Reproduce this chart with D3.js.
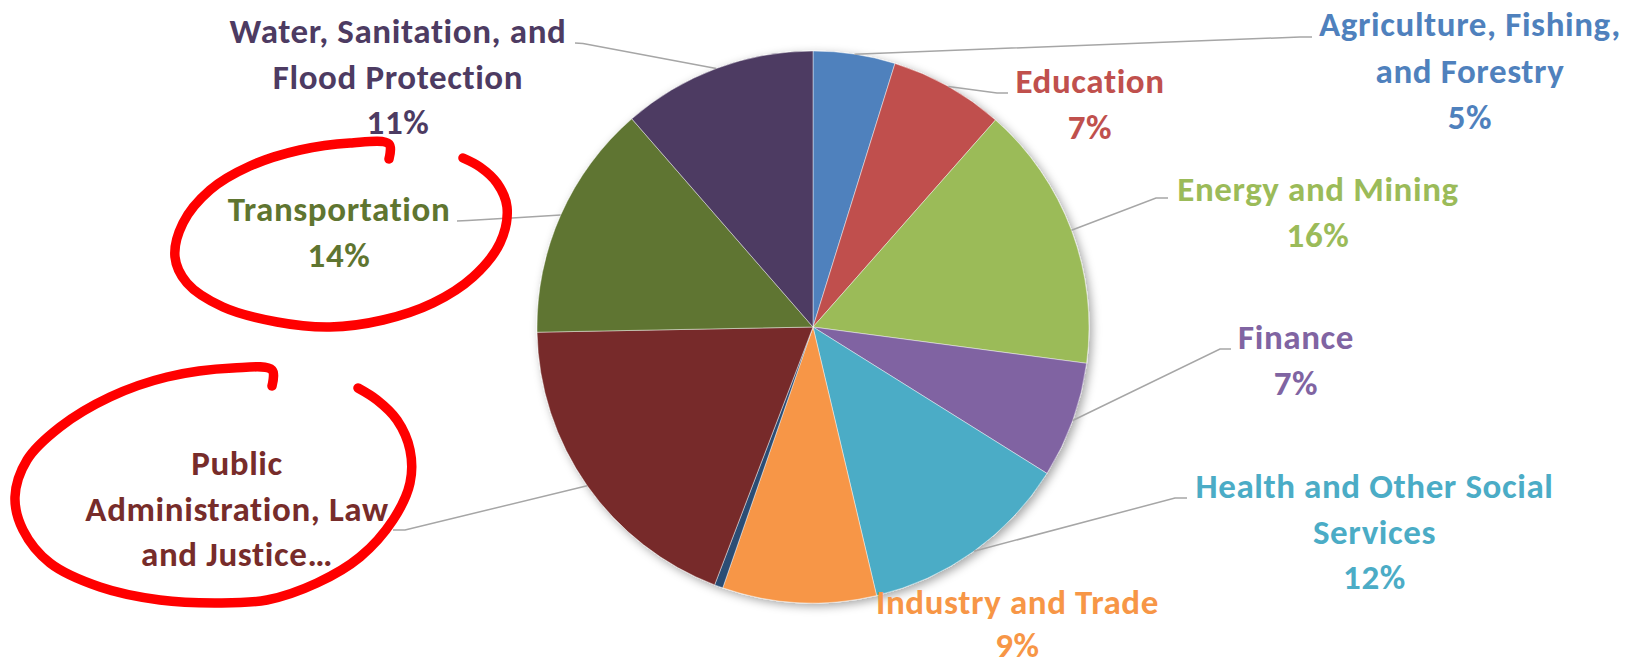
<!DOCTYPE html>
<html>
<head>
<meta charset="utf-8">
<script src="https://cdn.jsdelivr.net/npm/d3@7"></script>
<style>
  html, body { margin: 0; padding: 0; background: #fff; }
  svg { display: block; }
  text { font-family: Carlito, Calibri, Lato, "Open Sans", sans-serif; font-weight: 700; }
</style>
</head>
<body>
<svg id="chart" width="1634" height="665"></svg>
<script>
// ---- data ----
const categories = [
  "Agriculture, Fishing, and Forestry",
  "Education",
  "Energy and Mining",
  "Finance",
  "Health and Other Social Services",
  "Industry and Trade",
  "Information and Communications",
  "Public Administration, Law, and Justice",
  "Transportation",
  "Water, Sanitation, and Flood Protection"
];
const values = [4.8, 6.7, 15.6, 6.8, 12.4, 9.0, 0.5, 18.9, 13.9, 11.4];
const colors = ["#4F81BD", "#C0504D", "#9BBB59", "#8064A2", "#4BACC6",
                "#F79646", "#2C4D75", "#772C2A", "#5F7530", "#4D3B62"];
// label lines as displayed (percentage appended from data unless showPct false)
const labelLines = [
  ["Agriculture, Fishing,", "and Forestry"],
  ["Education"],
  ["Energy and Mining"],
  ["Finance"],
  ["Health and Other Social", "Services"],
  ["Industry and Trade"],
  null,
  ["Public", "Administration, Law", "and Justice…"],
  ["Transportation"],
  ["Water, Sanitation, and", "Flood Protection"]
];
const showPct = [true, true, true, true, true, true, false, false, true, true];

// ---- layout ----
const W = 1634, H = 665;
const cx = 813, cy = 327, R = 276;
const FONT = 35, PITCH = 45.5, LS = 0.6;
// label anchor (center x, first baseline) and leader elbow/end
const labelPos = [
  {x: 1470, y: 36,  pitch: 46.5, elbow: [1300, 37], end: [1312, 37]},
  {x: 1090, y: 93,  elbow: [997, 93],  end: [1008, 93]},
  {x: 1318, y: 201, elbow: [1156, 198], end: [1168, 198]},
  {x: 1296, y: 349, elbow: [1220, 349], end: [1231, 349]},
  {x: 1374.5, y: 498, elbow: [1175, 498], end: [1187, 498]},
  {x: 1017.5, y: 614, pitch: 43, elbow: null, end: null},
  null,
  {x: 237, y: 475, elbow: [405, 530], end: [393, 530]},
  {x: 339, y: 221, elbow: [468, 220.5], end: [457, 221]},
  {x: 398, y: 43,  elbow: [583, 43.5], end: [575, 43]}
];

const svg = d3.select("#chart");
const defs = svg.append("defs");
const f = defs.append("filter").attr("id", "shadow")
  .attr("x", "-10%").attr("y", "-10%").attr("width", "125%").attr("height", "125%");
f.append("feDropShadow").attr("dx", 3).attr("dy", 3).attr("stdDeviation", 5)
  .attr("flood-color", "#000").attr("flood-opacity", 0.35);

const total = d3.sum(values);
const pct = d3.format(".0%");
const pie = d3.pie().sort(null).value(d => d).startAngle(0).endAngle(2 * Math.PI);
const arcs = pie(values);
const arc = d3.arc().innerRadius(0).outerRadius(R);
const edgeArc = d3.arc().innerRadius(R).outerRadius(R);

const g = svg.append("g").attr("transform", `translate(${cx},${cy})`);
g.append("g").attr("filter", "url(#shadow)")
  .selectAll("path").data(arcs).join("path")
  .attr("d", arc)
  .attr("fill", (d, i) => colors[i])
  .attr("stroke", "rgba(255,255,255,0.55)")
  .attr("stroke-width", 0.8);

// leader lines
const leaders = svg.append("g");
arcs.forEach((a, i) => {
  const lp = labelPos[i];
  if (!lp || !lp.elbow) return;
  const c = edgeArc.centroid(a);
  const pts = [[cx + c[0], cy + c[1]], lp.elbow, lp.end];
  leaders.append("path")
    .attr("d", d3.line()(pts))
    .attr("fill", "none")
    .attr("stroke", "#A6A6A6")
    .attr("stroke-width", 1.5);
});

// labels
const labels = svg.append("g");
arcs.forEach((a, i) => {
  const lp = labelPos[i];
  if (!lp || !labelLines[i]) return;
  const lines = labelLines[i].slice();
  if (showPct[i]) lines.push(pct(values[i] / total));
  const p = lp.pitch || PITCH;
  const t = labels.append("text")
    .attr("text-anchor", "middle")
    .attr("font-size", FONT)
    .attr("letter-spacing", LS)
    .attr("fill", colors[i]);
  lines.forEach((ln, k) => {
    t.append("tspan").attr("x", lp.x).attr("y", lp.y + k * p).text(ln);
  });
});

// hand-drawn red annotation circles
const ring1 = [[389,159],[389,144],[350,143],[300,150],[250,166],[210,190],[183,223],[175,257],
  [187,283],[223,307],[277,322],[330,327],[383,320],[433,303],[473,277],[500,243],[507,207],
  [497,183],[480,167],[463,158]];
const ring2 = [[272,386],[272,370],[233,368],[167,377],[110,397],[60,427],[27,460],[15,497],
  [23,530],[50,563],[100,587],[160,600],[217,603],[267,600],[317,583],[360,557],[393,520],
  [410,483],[410,450],[397,420],[377,400],[358,388]];
const ann = svg.append("g");
[ring1, ring2].forEach(r => {
  ann.append("path")
    .attr("d", d3.line().curve(d3.curveCatmullRom.alpha(0.5))(r))
    .attr("fill", "none")
    .attr("stroke", "#FF0000")
    .attr("stroke-width", 9.5)
    .attr("stroke-linecap", "round")
    .attr("stroke-linejoin", "round");
});
</script>
</body>
</html>
